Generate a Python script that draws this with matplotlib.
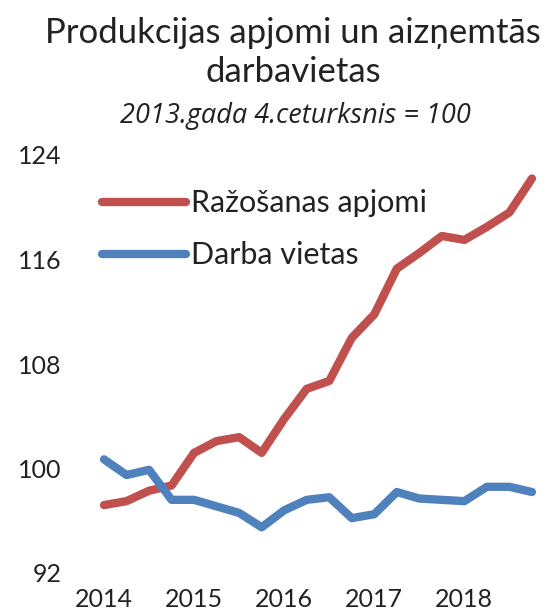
import numpy as np
import matplotlib.pyplot as plt

plt.rcParams['font.family'] = ['Lato', 'DejaVu Sans']

# ceturkšņi 2014Q1 - 2018Q4
quarters = np.arange(20)
year_labels = ['2014', '2015', '2016', '2017', '2018']
year_pos = [0, 4, 8, 12, 16]

razosana = [97.2, 97.5, 98.3, 98.7, 101.2, 102.1, 102.4, 101.2,
            103.8, 106.1, 106.7, 110.0, 111.8, 115.3, 116.5, 117.8,
            117.5, 118.5, 119.6, 122.2]
darba_vietas = [100.7, 99.5, 99.9, 97.6, 97.6, 97.1, 96.6, 95.5,
                96.8, 97.6, 97.8, 96.2, 96.5, 98.2, 97.7, 97.6,
                97.5, 98.6, 98.6, 98.2]

red = '#C0504D'
blue = '#4F81BD'

fig = plt.figure(figsize=(5.51, 6.15), dpi=100)
ax = fig.add_axes([70/551, 1-573/615, (545-70)/551, (573-155)/615])

ax.plot(quarters, razosana, color=red, lw=6, solid_capstyle='round',
        solid_joinstyle='round', label='Ražošanas apjomi')
ax.plot(quarters, darba_vietas, color=blue, lw=6, solid_capstyle='round',
        solid_joinstyle='round', label='Darba vietas')

ax.set_ylim(92, 124)
ax.set_yticks([92, 100, 108, 116, 124])
ax.set_xlim(-1.51, 19.58)
ax.set_xticks(year_pos)
ax.set_xticklabels(year_labels)
ax.tick_params(axis='both', length=0, labelsize=18, colors='#222222')
ax.tick_params(axis='y', pad=6)
ax.tick_params(axis='x', pad=11)
for s in ax.spines.values():
    s.set_visible(False)

leg = ax.legend(loc='upper left', bbox_to_anchor=(81/551, 1-168/615),
                bbox_transform=fig.transFigure, frameon=False, fontsize=22,
                handlelength=2.75, handletextpad=0.15, labelspacing=0.78,
                borderpad=0.2)
for t in leg.get_texts():
    t.set_color('#222222')

fig.text(293/551, 1-33/615, 'Produkcijas apjomi un aizņemtās', ha='center',
         va='center', fontsize=25, color='#222222')
fig.text(293/551, 1-72/615, 'darbavietas', ha='center', va='center',
         fontsize=25, color='#222222')
fig.text(295/551, 1-116/615, '2013.gada 4.ceturksnis = 100', ha='center',
         va='center', fontsize=19.5, style='italic', color='#222222',
         family=['Open Sans', 'DejaVu Sans'])

fig.savefig('out.png', dpi=100)
